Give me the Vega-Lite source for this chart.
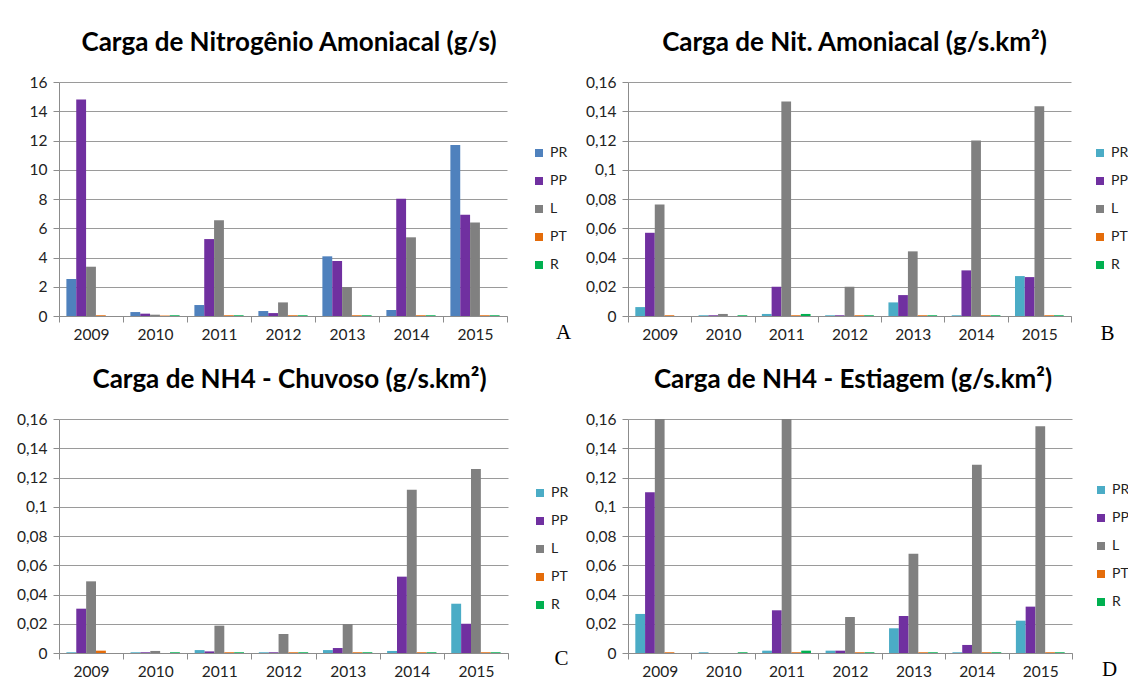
{
  "$schema": "https://vega.github.io/schema/vega-lite/v6.json",
  "background": "white",
  "padding": {"left": 16, "top": 30, "right": 0, "bottom": 0},
  "config": {
    "view": {"stroke": null},
    "font": "Lato",
    "title": {"font": "Lato", "fontSize": 26, "fontWeight": "bold", "color": "#000000", "anchor": "middle", "offset": 19},
    "axis": {"labelFont": "Lato", "labelFontSize": 15.5, "labelColor": "#222222", "domainColor": "#8c8c8c", "tickColor": "#8c8c8c", "gridColor": "#9a9a9a", "tickSize": 6},
    "axisX": {"labelAngle": 0, "grid": false, "tickBand": "extent", "labelPadding": 5, "titleFont": "Liberation Serif", "titleFontSize": 21, "titleFontWeight": "normal", "titleColor": "#000000", "titleAlign": "center", "titleBaseline": "alphabetic"},
    "axisY": {"title": null, "grid": true, "labelPadding": 6, "tickSize": 6},
    "legend": {"title": null, "symbolType": "square", "symbolSize": 64, "labelFont": "Lato", "labelFontSize": 14, "labelColor": "#222222", "rowPadding": 14, "orient": "none", "symbolStrokeWidth": 0},
    "bar": {"clip": true}
  },
  "datasets": {
    "A": [
      {"year": "2009", "serie": "PR", "value": 2.53}, {"year": "2009", "serie": "PP", "value": 14.8}, {"year": "2009", "serie": "L", "value": 3.37}, {"year": "2009", "serie": "PT", "value": 0.05}, {"year": "2009", "serie": "R", "value": 0},
      {"year": "2010", "serie": "PR", "value": 0.27}, {"year": "2010", "serie": "PP", "value": 0.16}, {"year": "2010", "serie": "L", "value": 0.09}, {"year": "2010", "serie": "PT", "value": 0.03}, {"year": "2010", "serie": "R", "value": 0.05},
      {"year": "2011", "serie": "PR", "value": 0.75}, {"year": "2011", "serie": "PP", "value": 5.26}, {"year": "2011", "serie": "L", "value": 6.54}, {"year": "2011", "serie": "PT", "value": 0.05}, {"year": "2011", "serie": "R", "value": 0.05},
      {"year": "2012", "serie": "PR", "value": 0.34}, {"year": "2012", "serie": "PP", "value": 0.2}, {"year": "2012", "serie": "L", "value": 0.93}, {"year": "2012", "serie": "PT", "value": 0.05}, {"year": "2012", "serie": "R", "value": 0.05},
      {"year": "2013", "serie": "PR", "value": 4.08}, {"year": "2013", "serie": "PP", "value": 3.76}, {"year": "2013", "serie": "L", "value": 1.98}, {"year": "2013", "serie": "PT", "value": 0.05}, {"year": "2013", "serie": "R", "value": 0.05},
      {"year": "2014", "serie": "PR", "value": 0.41}, {"year": "2014", "serie": "PP", "value": 8.02}, {"year": "2014", "serie": "L", "value": 5.38}, {"year": "2014", "serie": "PT", "value": 0.05}, {"year": "2014", "serie": "R", "value": 0.05},
      {"year": "2015", "serie": "PR", "value": 11.69}, {"year": "2015", "serie": "PP", "value": 6.93}, {"year": "2015", "serie": "L", "value": 6.4}, {"year": "2015", "serie": "PT", "value": 0.05}, {"year": "2015", "serie": "R", "value": 0.05}
    ],
    "B": [
      {"year": "2009", "serie": "PR", "value": 0.0061}, {"year": "2009", "serie": "PP", "value": 0.0569}, {"year": "2009", "serie": "L", "value": 0.0762}, {"year": "2009", "serie": "PT", "value": 0.0005}, {"year": "2009", "serie": "R", "value": 0},
      {"year": "2010", "serie": "PR", "value": 0.0005}, {"year": "2010", "serie": "PP", "value": 0.0005}, {"year": "2010", "serie": "L", "value": 0.0014}, {"year": "2010", "serie": "PT", "value": 0}, {"year": "2010", "serie": "R", "value": 0.0005},
      {"year": "2011", "serie": "PR", "value": 0.0014}, {"year": "2011", "serie": "PP", "value": 0.02}, {"year": "2011", "serie": "L", "value": 0.1466}, {"year": "2011", "serie": "PT", "value": 0.0005}, {"year": "2011", "serie": "R", "value": 0.0014},
      {"year": "2012", "serie": "PR", "value": 0.0005}, {"year": "2012", "serie": "PP", "value": 0.0005}, {"year": "2012", "serie": "L", "value": 0.02}, {"year": "2012", "serie": "PT", "value": 0.0005}, {"year": "2012", "serie": "R", "value": 0.0005},
      {"year": "2013", "serie": "PR", "value": 0.0093}, {"year": "2013", "serie": "PP", "value": 0.0143}, {"year": "2013", "serie": "L", "value": 0.0442}, {"year": "2013", "serie": "PT", "value": 0.0005}, {"year": "2013", "serie": "R", "value": 0.0005},
      {"year": "2014", "serie": "PR", "value": 0.0005}, {"year": "2014", "serie": "PP", "value": 0.0312}, {"year": "2014", "serie": "L", "value": 0.12}, {"year": "2014", "serie": "PT", "value": 0.0005}, {"year": "2014", "serie": "R", "value": 0.0005},
      {"year": "2015", "serie": "PR", "value": 0.0273}, {"year": "2015", "serie": "PP", "value": 0.0266}, {"year": "2015", "serie": "L", "value": 0.1434}, {"year": "2015", "serie": "PT", "value": 0.0005}, {"year": "2015", "serie": "R", "value": 0.0005}
    ],
    "C": [
      {"year": "2009", "serie": "PR", "value": 0.0005}, {"year": "2009", "serie": "PP", "value": 0.0303}, {"year": "2009", "serie": "L", "value": 0.049}, {"year": "2009", "serie": "PT", "value": 0.0016}, {"year": "2009", "serie": "R", "value": 0},
      {"year": "2010", "serie": "PR", "value": 0.0005}, {"year": "2010", "serie": "PP", "value": 0.0005}, {"year": "2010", "serie": "L", "value": 0.0014}, {"year": "2010", "serie": "PT", "value": 0}, {"year": "2010", "serie": "R", "value": 0.0005},
      {"year": "2011", "serie": "PR", "value": 0.002}, {"year": "2011", "serie": "PP", "value": 0.0011}, {"year": "2011", "serie": "L", "value": 0.0187}, {"year": "2011", "serie": "PT", "value": 0.0005}, {"year": "2011", "serie": "R", "value": 0.0005},
      {"year": "2012", "serie": "PR", "value": 0.0005}, {"year": "2012", "serie": "PP", "value": 0.0005}, {"year": "2012", "serie": "L", "value": 0.013}, {"year": "2012", "serie": "PT", "value": 0.0005}, {"year": "2012", "serie": "R", "value": 0.0005},
      {"year": "2013", "serie": "PR", "value": 0.002}, {"year": "2013", "serie": "PP", "value": 0.0034}, {"year": "2013", "serie": "L", "value": 0.0198}, {"year": "2013", "serie": "PT", "value": 0.0005}, {"year": "2013", "serie": "R", "value": 0.0005},
      {"year": "2014", "serie": "PR", "value": 0.0014}, {"year": "2014", "serie": "PP", "value": 0.0522}, {"year": "2014", "serie": "L", "value": 0.1117}, {"year": "2014", "serie": "PT", "value": 0.0005}, {"year": "2014", "serie": "R", "value": 0.0005},
      {"year": "2015", "serie": "PR", "value": 0.0337}, {"year": "2015", "serie": "PP", "value": 0.02}, {"year": "2015", "serie": "L", "value": 0.1258}, {"year": "2015", "serie": "PT", "value": 0.0005}, {"year": "2015", "serie": "R", "value": 0.0005}
    ],
    "D": [
      {"year": "2009", "serie": "PR", "value": 0.0267}, {"year": "2009", "serie": "PP", "value": 0.1099}, {"year": "2009", "serie": "L", "value": 0.19}, {"year": "2009", "serie": "PT", "value": 0.0005}, {"year": "2009", "serie": "R", "value": 0},
      {"year": "2010", "serie": "PR", "value": 0.0005}, {"year": "2010", "serie": "PP", "value": 0}, {"year": "2010", "serie": "L", "value": 0}, {"year": "2010", "serie": "PT", "value": 0}, {"year": "2010", "serie": "R", "value": 0.0005},
      {"year": "2011", "serie": "PR", "value": 0.0016}, {"year": "2011", "serie": "PP", "value": 0.0292}, {"year": "2011", "serie": "L", "value": 0.2}, {"year": "2011", "serie": "PT", "value": 0.0005}, {"year": "2011", "serie": "R", "value": 0.0016},
      {"year": "2012", "serie": "PR", "value": 0.0016}, {"year": "2012", "serie": "PP", "value": 0.0016}, {"year": "2012", "serie": "L", "value": 0.0246}, {"year": "2012", "serie": "PT", "value": 0.0005}, {"year": "2012", "serie": "R", "value": 0.0005},
      {"year": "2013", "serie": "PR", "value": 0.0169}, {"year": "2013", "serie": "PP", "value": 0.0253}, {"year": "2013", "serie": "L", "value": 0.0679}, {"year": "2013", "serie": "PT", "value": 0.0005}, {"year": "2013", "serie": "R", "value": 0.0005},
      {"year": "2014", "serie": "PR", "value": 0.0005}, {"year": "2014", "serie": "PP", "value": 0.0055}, {"year": "2014", "serie": "L", "value": 0.1288}, {"year": "2014", "serie": "PT", "value": 0.0005}, {"year": "2014", "serie": "R", "value": 0.0005},
      {"year": "2015", "serie": "PR", "value": 0.0221}, {"year": "2015", "serie": "PP", "value": 0.0317}, {"year": "2015", "serie": "L", "value": 0.155}, {"year": "2015", "serie": "PT", "value": 0.0005}, {"year": "2015", "serie": "R", "value": 0.0005}
    ]
  },
  "concat": [
    {
      "data": {"name": "A"},
      "width": 448, "height": 234,
      "title": {"text": "Carga de Nitrogênio Amoniacal (g/s)", "dx": 6},
      "mark": {"type": "bar", "clip": true},
      "encoding": {
        "x": {"field": "year", "type": "nominal", "scale": {"paddingInner": 0, "paddingOuter": 0}, "axis": {"title": "A", "titleX": 504, "titleY": 22}},
        "xOffset": {"field": "serie", "sort": ["PR", "PP", "L", "PT", "R"], "scale": {"paddingInner": 0, "paddingOuter": 0.75}},
        "y": {"field": "value", "type": "quantitative", "scale": {"domain": [0, 16], "nice": false}, "axis": {"values": [0, 2, 4, 6, 8, 10, 12, 14, 16], "labelExpr": "replace(format(datum.value, '.2~f'), '.', ',')"}},
        "color": {"field": "serie", "sort": ["PR", "PP", "L", "PT", "R"], "scale": {"domain": ["PR", "PP", "L", "PT", "R"], "range": ["#4F81BD", "#7030A0", "#808080", "#E46C0A", "#00B050"]}, "legend": {"legendX": 473, "legendY": 64}}
      }
    },
    {
      "data": {"name": "B"},
      "width": 443, "height": 234,
      "title": {"text": "Carga de Nit. Amoniacal (g/s.km²)", "dx": 5},
      "mark": {"type": "bar", "clip": true},
      "encoding": {
        "x": {"field": "year", "type": "nominal", "scale": {"paddingInner": 0, "paddingOuter": 0}, "axis": {"title": "B", "titleX": 479, "titleY": 23}},
        "xOffset": {"field": "serie", "sort": ["PR", "PP", "L", "PT", "R"], "scale": {"paddingInner": 0, "paddingOuter": 0.75}},
        "y": {"field": "value", "type": "quantitative", "scale": {"domain": [0, 0.16], "nice": false}, "axis": {"values": [0, 0.02, 0.04, 0.06, 0.08, 0.1, 0.12, 0.14, 0.16], "labelExpr": "replace(format(datum.value, '.2~f'), '.', ',')"}},
        "color": {"field": "serie", "sort": ["PR", "PP", "L", "PT", "R"], "scale": {"domain": ["PR", "PP", "L", "PT", "R"], "range": ["#4BACC6", "#7030A0", "#808080", "#E46C0A", "#00B050"]}, "legend": {"legendX": 465, "legendY": 64}}
      }
    },
    {
      "data": {"name": "C"},
      "width": 449, "height": 234,
      "title": {"text": "Carga de NH4 - Chuvoso (g/s.km²)", "dx": 6},
      "mark": {"type": "bar", "clip": true},
      "encoding": {
        "x": {"field": "year", "type": "nominal", "scale": {"paddingInner": 0, "paddingOuter": 0}, "axis": {"title": "C", "titleX": 502, "titleY": 11}},
        "xOffset": {"field": "serie", "sort": ["PR", "PP", "L", "PT", "R"], "scale": {"paddingInner": 0, "paddingOuter": 0.75}},
        "y": {"field": "value", "type": "quantitative", "scale": {"domain": [0, 0.16], "nice": false}, "axis": {"values": [0, 0.02, 0.04, 0.06, 0.08, 0.1, 0.12, 0.14, 0.16], "labelExpr": "replace(format(datum.value, '.2~f'), '.', ',')"}},
        "color": {"field": "serie", "sort": ["PR", "PP", "L", "PT", "R"], "scale": {"domain": ["PR", "PP", "L", "PT", "R"], "range": ["#4BACC6", "#7030A0", "#808080", "#E46C0A", "#00B050"]}, "legend": {"legendX": 474, "legendY": 67}}
      }
    },
    {
      "data": {"name": "D"},
      "width": 444, "height": 234,
      "title": {"text": "Carga de NH4 - Estiagem (g/s.km²)", "dx": 3},
      "mark": {"type": "bar", "clip": true},
      "encoding": {
        "x": {"field": "year", "type": "nominal", "scale": {"paddingInner": 0, "paddingOuter": 0}, "axis": {"title": "D", "titleX": 481, "titleY": 22}},
        "xOffset": {"field": "serie", "sort": ["PR", "PP", "L", "PT", "R"], "scale": {"paddingInner": 0, "paddingOuter": 0.75}},
        "y": {"field": "value", "type": "quantitative", "scale": {"domain": [0, 0.16], "nice": false}, "axis": {"values": [0, 0.02, 0.04, 0.06, 0.08, 0.1, 0.12, 0.14, 0.16], "labelExpr": "replace(format(datum.value, '.2~f'), '.', ',')"}},
        "color": {"field": "serie", "sort": ["PR", "PP", "L", "PT", "R"], "scale": {"domain": ["PR", "PP", "L", "PT", "R"], "range": ["#4BACC6", "#7030A0", "#808080", "#E46C0A", "#00B050"]}, "legend": {"legendX": 466, "legendY": 64}}
      }
    }
  ],
  "columns": 2,
  "align": "none",
  "spacing": {"row": 24, "column": 14},
  "resolve": {"scale": {"color": "independent", "y": "independent", "x": "independent", "xOffset": "independent"}, "legend": {"color": "independent"}}
}
